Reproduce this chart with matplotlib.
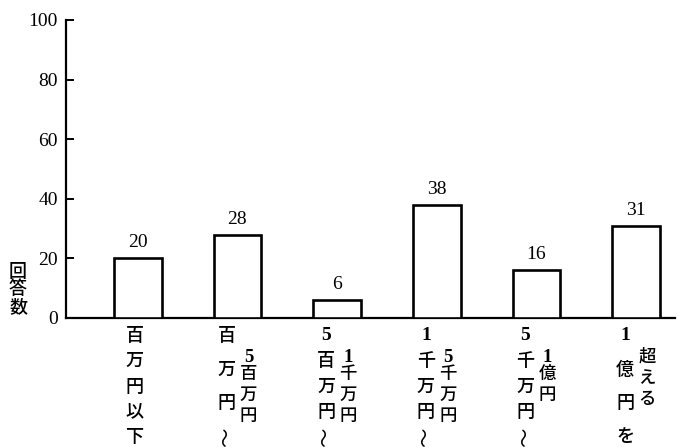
import matplotlib
matplotlib.use("Agg")
import matplotlib.pyplot as plt
import numpy as np

plt.rcParams['font.family'] = ['Noto Sans CJK JP', 'DejaVu Sans']

# Number of responses per annual amount bracket
counts = [20, 28, 6, 38, 16, 31]
# Category labels, set vertically in two columns each
label_main = ["百万円以下", "百万円～", "5百万円～", "1千万円～", "5千万円～", "1億円を"]
label_sub = ["", "5百万円", "1千万円", "5千万円", "1億円", "超える"]
y_ticks = [0, 20, 40, 60, 80, 100]
y_title = "回答数"

W, H = 680, 447
fig = plt.figure(figsize=(W / 100, H / 100), dpi=100)
ax = fig.add_axes([66 / W, 1 - 318 / H, (675 - 66) / W, (318 - 20) / H])

x = np.arange(len(counts))
ax.bar(x, counts, width=0.48, facecolor='white', edgecolor='black', linewidth=1.9, zorder=3)

for xi, v in zip(x, counts):
    ax.annotate(str(v), (xi, v), xytext=(0, 5), textcoords='offset points',
                ha='center', va='bottom', fontsize=14, family='Liberation Serif')

ax.set_xlim(-0.72, 5.39)
ax.set_ylim(0, 100)
ax.set_yticks(y_ticks)
ax.set_yticklabels([str(t) for t in y_ticks], family='Liberation Serif', fontsize=14)
ax.tick_params(axis='y', direction='in', length=6, width=1.4, pad=6)
ax.set_xticks([])
for s in ('top', 'right'):
    ax.spines[s].set_visible(False)
ax.spines['left'].set_linewidth(1.6)
ax.spines['bottom'].set_linewidth(1.6)

# vertical category labels below the axis
tr = ax.get_xaxis_transform()
ppx = 298.0  # axes height in pixels


def frac(py):
    return (318 - py) / ppx


def draw_char(xc, py, ch, size):
    if ch == "～":
        ax.text(xc, frac(py), ch, transform=tr, ha='center', va='center',
                fontsize=size + 1, rotation=90, clip_on=False)
    elif ch.isdigit():
        ax.text(xc, frac(py), ch, transform=tr, ha='center', va='center',
                fontsize=size + 1, fontweight='bold', family='Liberation Serif',
                clip_on=False)
    else:
        ax.text(xc, frac(py), ch, transform=tr, ha='center', va='center',
                fontsize=size, fontweight='medium', clip_on=False)


for i, (m, s) in enumerate(zip(label_main, label_sub)):
    off1 = -0.03 if not s else -0.11
    ys = np.linspace(336, 437, len(m))
    for ch, py in zip(m, ys):
        draw_char(i + off1, py, ch, 13)
    py = 357
    for j, ch in enumerate(s):
        draw_char(i + 0.11, py, ch, 12.5)
        py += 17 if ch.isdigit() else 21

# stacked y-axis title
for k, ch in enumerate(y_title):
    fig.text(18 / W, 1 - (272 + 17.5 * k) / H, ch, ha='center', va='center',
             fontsize=13, fontweight='medium')

fig.savefig("out.png", dpi=100, facecolor='white')
